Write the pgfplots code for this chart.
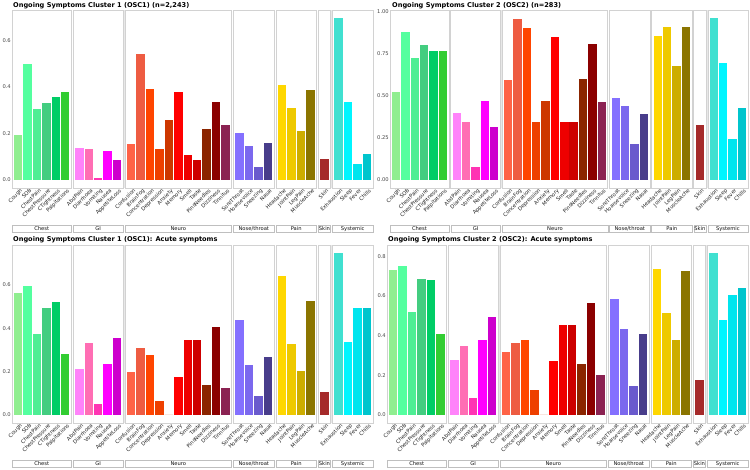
\documentclass[border=0pt]{standalone}
\usepackage{fontspec}
\setmainfont{DejaVu Sans}
\usepackage{pgfplots}
\pgfplotsset{compat=1.18}

% bar colours, one per symptom (R colour names)
\definecolor{c1}{HTML}{90EE90}\definecolor{c2}{HTML}{54FF9F}\definecolor{c3}{HTML}{4EEE94}
\definecolor{c4}{HTML}{43CD80}\definecolor{c5}{HTML}{00CD66}\definecolor{c6}{HTML}{32CD32}
\definecolor{c7}{HTML}{FF83FA}\definecolor{c8}{HTML}{FF6EB4}\definecolor{c9}{HTML}{FF34B3}
\definecolor{c10}{HTML}{FF00FF}\definecolor{c11}{HTML}{CD00CD}
\definecolor{c12}{HTML}{FF6347}\definecolor{c13}{HTML}{EE5C42}\definecolor{c14}{HTML}{FF4500}
\definecolor{c15}{HTML}{EE4000}\definecolor{c16}{HTML}{CD3700}\definecolor{c17}{HTML}{FF0000}
\definecolor{c18}{HTML}{EE0000}\definecolor{c19}{HTML}{CD0000}\definecolor{c20}{HTML}{8B2500}
\definecolor{c21}{HTML}{8B0000}\definecolor{c22}{HTML}{8B2252}
\definecolor{c23}{HTML}{8470FF}\definecolor{c24}{HTML}{7B68EE}\definecolor{c25}{HTML}{6A5ACD}
\definecolor{c26}{HTML}{483D8B}
\definecolor{c27}{HTML}{FFD700}\definecolor{c28}{HTML}{EEC900}\definecolor{c29}{HTML}{CDAD00}
\definecolor{c30}{HTML}{8B7500}
\definecolor{c31}{HTML}{A52A2A}
\definecolor{c32}{HTML}{40E0D0}\definecolor{c33}{HTML}{00F5FF}\definecolor{c34}{HTML}{00E5EE}
\definecolor{c35}{HTML}{00C5CD}

\newcommand\smallfont{\fontsize{5.2}{6}\selectfont}

% one facet: xleft, xright, xmid, ymin, ymax, strip text
\newcommand\facetbox[6]{%
  \draw[gray!35, line width=0.6pt] (axis cs:#1,#4) rectangle (axis cs:#2,#5);
  \draw[gray!50, fill=white, line width=0.5pt] ([yshift=-37pt]axis cs:#1,#4) rectangle ([yshift=-44.5pt]axis cs:#2,#4);
  \node[font=\smallfont, text=gray!15!black, inner sep=0pt] at ([yshift=-40.75pt]axis cs:#3,#4) {#6};
}
\newcommand\frames[2]{%
  \fill[gray!18] (axis cs:11.15,#1) rectangle (axis cs:11.35,#2);
  \fill[gray!18] (axis cs:33.15,#1) rectangle (axis cs:33.35,#2);
  \facetbox{-0.65}{5.65}{2.5}{#1}{#2}{Chest}
  \facetbox{5.85}{11.15}{8.5}{#1}{#2}{GI}
  \facetbox{11.35}{22.65}{17}{#1}{#2}{Neuro}
  \facetbox{22.85}{27.15}{25}{#1}{#2}{Nose/throat}
  \facetbox{27.35}{31.65}{29.5}{#1}{#2}{Pain}
  \facetbox{31.85}{33.15}{32.5}{#1}{#2}{Skin}
  \facetbox{33.35}{37.65}{35.5}{#1}{#2}{Systemic}
}

\pgfplotsset{
  panel/.style={
    scale only axis, width=361pt, height=178pt, anchor=south west,
    xmin=-0.65, xmax=37.65,
    ybar, bar width=0.9, bar shift=0pt,
    axis line style={draw=none},
    major tick length=0pt,
    clip=false,
    every axis plot/.append style={draw=none},
    xtick={0,1,2,3,4,5,6.5,7.5,8.5,9.5,10.5,12,13,14,15,16,17,18,19,20,21,22,
           23.5,24.5,25.5,26.5,28,29,30,31,32.5,34,35,36,37},
    xticklabels={Cough,SOB,ChestPain,ChestPressure,CTightness,Palpitations,
      AbdPain,Diarrhoea,Vomiting,Nausea,AppetiteLoss,
      Confusion,BrainFog,Concentration,Depression,Anxiety,Memory,Smell,Taste,PinsNeedles,Dizziness,Tinnitus,
      SoreThroat,Hoarsevoice,Sneezing,Nasal,Headache,JointPain,LegPain,MuscleAche,Skin,
      Exhaustion,Sleep,Fever,Chills},
    xticklabel style={rotate=45, anchor=north east, font=\smallfont, text=gray!25!black,
      inner sep=0pt, xshift=1pt, yshift=-1.2pt},
    yticklabel style={font=\smallfont, text=gray!55!black, inner sep=1pt,
      /pgf/number format/.cd, fixed, fixed zerofill, precision=1, assume math mode=true},
  },
}
\tikzset{ttl/.style={anchor=base west, font=\bfseries\fontsize{6.6}{7}\selectfont, inner sep=0pt}}

\begin{document}
\begin{tikzpicture}
\useasboundingbox (0,0) rectangle (750pt,469pt);

\node[ttl] at (13pt,461pt) {Ongoing Symptoms Cluster 1 (OSC1) (n=2,243)};
\node[ttl] at (392pt,461pt) {Ongoing Symptoms Cluster 2 (OSC2) (n=283)};
\node[ttl] at (13pt,227pt) {Ongoing Symptoms Cluster 1 (OSC1): Acute symptoms};
\node[ttl] at (388pt,227pt) {Ongoing Symptoms Cluster 2 (OSC2): Acute symptoms};

% OSC1 ongoing
\begin{axis}[panel, at={(12pt,281pt)}, ymin=-0.0348, ymax=0.7308, ytick={0,0.2,0.4,0.6}]
\frames{-0.0348}{0.7308}
\addplot[fill=c1] coordinates {(0,0.194)};
\addplot[fill=c2] coordinates {(1,0.499)};
\addplot[fill=c3] coordinates {(2,0.304)};
\addplot[fill=c4] coordinates {(3,0.330)};
\addplot[fill=c5] coordinates {(4,0.357)};
\addplot[fill=c6] coordinates {(5,0.376)};
\addplot[fill=c7] coordinates {(6.5,0.139)};
\addplot[fill=c8] coordinates {(7.5,0.133)};
\addplot[fill=c9] coordinates {(8.5,0.010)};
\addplot[fill=c10] coordinates {(9.5,0.123)};
\addplot[fill=c11] coordinates {(10.5,0.085)};
\addplot[fill=c12] coordinates {(12,0.155)};
\addplot[fill=c13] coordinates {(13,0.542)};
\addplot[fill=c14] coordinates {(14,0.393)};
\addplot[fill=c15] coordinates {(15,0.132)};
\addplot[fill=c16] coordinates {(16,0.258)};
\addplot[fill=c17] coordinates {(17,0.380)};
\addplot[fill=c18] coordinates {(18,0.105)};
\addplot[fill=c19] coordinates {(19,0.087)};
\addplot[fill=c20] coordinates {(20,0.221)};
\addplot[fill=c21] coordinates {(21,0.333)};
\addplot[fill=c22] coordinates {(22,0.235)};
\addplot[fill=c23] coordinates {(23.5,0.200)};
\addplot[fill=c24] coordinates {(24.5,0.146)};
\addplot[fill=c25] coordinates {(25.5,0.055)};
\addplot[fill=c26] coordinates {(26.5,0.159)};
\addplot[fill=c27] coordinates {(28,0.409)};
\addplot[fill=c28] coordinates {(29,0.308)};
\addplot[fill=c29] coordinates {(30,0.210)};
\addplot[fill=c30] coordinates {(31,0.387)};
\addplot[fill=c31] coordinates {(32.5,0.091)};
\addplot[fill=c32] coordinates {(34,0.696)};
\addplot[fill=c33] coordinates {(35,0.335)};
\addplot[fill=c34] coordinates {(36,0.067)};
\addplot[fill=c35] coordinates {(37,0.112)};
\end{axis}

% OSC2 ongoing
\begin{axis}[panel, at={(390pt,281pt)}, width=358pt, ymin=-0.0482, ymax=1.0112,
  ytick={0,0.25,0.5,0.75,1}, yticklabel style={/pgf/number format/precision=2}]
\frames{-0.0482}{1.0112}
\addplot[fill=c1] coordinates {(0,0.526)};
\addplot[fill=c2] coordinates {(1,0.882)};
\addplot[fill=c3] coordinates {(2,0.728)};
\addplot[fill=c4] coordinates {(3,0.803)};
\addplot[fill=c5] coordinates {(4,0.768)};
\addplot[fill=c6] coordinates {(5,0.768)};
\addplot[fill=c7] coordinates {(6.5,0.396)};
\addplot[fill=c8] coordinates {(7.5,0.343)};
\addplot[fill=c9] coordinates {(8.5,0.079)};
\addplot[fill=c10] coordinates {(9.5,0.472)};
\addplot[fill=c11] coordinates {(10.5,0.313)};
\addplot[fill=c12] coordinates {(12,0.596)};
\addplot[fill=c13] coordinates {(13,0.959)};
\addplot[fill=c14] coordinates {(14,0.904)};
\addplot[fill=c15] coordinates {(15,0.343)};
\addplot[fill=c16] coordinates {(16,0.467)};
\addplot[fill=c17] coordinates {(17,0.850)};
\addplot[fill=c18] coordinates {(18,0.346)};
\addplot[fill=c19] coordinates {(19,0.343)};
\addplot[fill=c20] coordinates {(20,0.598)};
\addplot[fill=c21] coordinates {(21,0.811)};
\addplot[fill=c22] coordinates {(22,0.463)};
\addplot[fill=c23] coordinates {(23.5,0.488)};
\addplot[fill=c24] coordinates {(24.5,0.439)};
\addplot[fill=c25] coordinates {(25.5,0.213)};
\addplot[fill=c26] coordinates {(26.5,0.390)};
\addplot[fill=c27] coordinates {(28,0.858)};
\addplot[fill=c28] coordinates {(29,0.909)};
\addplot[fill=c29] coordinates {(30,0.679)};
\addplot[fill=c30] coordinates {(31,0.909)};
\addplot[fill=c31] coordinates {(32.5,0.325)};
\addplot[fill=c32] coordinates {(34,0.963)};
\addplot[fill=c33] coordinates {(35,0.697)};
\addplot[fill=c34] coordinates {(36,0.242)};
\addplot[fill=c35] coordinates {(37,0.427)};
\end{axis}

% OSC1 acute
\begin{axis}[panel, at={(12pt,46pt)}, ymin=-0.0374, ymax=0.7854, ytick={0,0.2,0.4,0.6}]
\frames{-0.0374}{0.7854}
\addplot[fill=c1] coordinates {(0,0.565)};
\addplot[fill=c2] coordinates {(1,0.598)};
\addplot[fill=c3] coordinates {(2,0.373)};
\addplot[fill=c4] coordinates {(3,0.495)};
\addplot[fill=c5] coordinates {(4,0.524)};
\addplot[fill=c6] coordinates {(5,0.281)};
\addplot[fill=c7] coordinates {(6.5,0.214)};
\addplot[fill=c8] coordinates {(7.5,0.333)};
\addplot[fill=c9] coordinates {(8.5,0.052)};
\addplot[fill=c10] coordinates {(9.5,0.234)};
\addplot[fill=c11] coordinates {(10.5,0.356)};
\addplot[fill=c12] coordinates {(12,0.197)};
\addplot[fill=c13] coordinates {(13,0.307)};
\addplot[fill=c14] coordinates {(14,0.275)};
\addplot[fill=c15] coordinates {(15,0.066)};
\addplot[fill=c16] coordinates {(16,0)};
\addplot[fill=c17] coordinates {(17,0.176)};
\addplot[fill=c18] coordinates {(18,0.345)};
\addplot[fill=c19] coordinates {(19,0.345)};
\addplot[fill=c20] coordinates {(20,0.139)};
\addplot[fill=c21] coordinates {(21,0.405)};
\addplot[fill=c22] coordinates {(22,0.125)};
\addplot[fill=c23] coordinates {(23.5,0.437)};
\addplot[fill=c24] coordinates {(24.5,0.232)};
\addplot[fill=c25] coordinates {(25.5,0.087)};
\addplot[fill=c26] coordinates {(26.5,0.266)};
\addplot[fill=c27] coordinates {(28,0.643)};
\addplot[fill=c28] coordinates {(29,0.327)};
\addplot[fill=c29] coordinates {(30,0.205)};
\addplot[fill=c30] coordinates {(31,0.528)};
\addplot[fill=c31] coordinates {(32.5,0.104)};
\addplot[fill=c32] coordinates {(34,0.748)};
\addplot[fill=c33] coordinates {(35,0.339)};
\addplot[fill=c34] coordinates {(36,0.496)};
\addplot[fill=c35] coordinates {(37,0.492)};
\end{axis}

% OSC2 acute
\begin{axis}[panel, at={(387pt,46pt)}, ymin=-0.0409, ymax=0.8579, ytick={0,0.2,0.4,0.6,0.8}]
\frames{-0.0409}{0.8579}
\addplot[fill=c1] coordinates {(0,0.733)};
\addplot[fill=c2] coordinates {(1,0.750)};
\addplot[fill=c3] coordinates {(2,0.522)};
\addplot[fill=c4] coordinates {(3,0.687)};
\addplot[fill=c5] coordinates {(4,0.683)};
\addplot[fill=c6] coordinates {(5,0.407)};
\addplot[fill=c7] coordinates {(6.5,0.275)};
\addplot[fill=c8] coordinates {(7.5,0.350)};
\addplot[fill=c9] coordinates {(8.5,0.087)};
\addplot[fill=c10] coordinates {(9.5,0.380)};
\addplot[fill=c11] coordinates {(10.5,0.492)};
\addplot[fill=c12] coordinates {(12,0.318)};
\addplot[fill=c13] coordinates {(13,0.362)};
\addplot[fill=c14] coordinates {(14,0.380)};
\addplot[fill=c15] coordinates {(15,0.125)};
\addplot[fill=c16] coordinates {(16,0)};
\addplot[fill=c17] coordinates {(17,0.272)};
\addplot[fill=c18] coordinates {(18,0.452)};
\addplot[fill=c19] coordinates {(19,0.455)};
\addplot[fill=c20] coordinates {(20,0.255)};
\addplot[fill=c21] coordinates {(21,0.565)};
\addplot[fill=c22] coordinates {(22,0.202)};
\addplot[fill=c23] coordinates {(23.5,0.585)};
\addplot[fill=c24] coordinates {(24.5,0.433)};
\addplot[fill=c25] coordinates {(25.5,0.145)};
\addplot[fill=c26] coordinates {(26.5,0.408)};
\addplot[fill=c27] coordinates {(28,0.735)};
\addplot[fill=c28] coordinates {(29,0.517)};
\addplot[fill=c29] coordinates {(30,0.377)};
\addplot[fill=c30] coordinates {(31,0.728)};
\addplot[fill=c31] coordinates {(32.5,0.175)};
\addplot[fill=c32] coordinates {(34,0.817)};
\addplot[fill=c33] coordinates {(35,0.478)};
\addplot[fill=c34] coordinates {(36,0.603)};
\addplot[fill=c35] coordinates {(37,0.643)};
\end{axis}
\end{tikzpicture}
\end{document}
